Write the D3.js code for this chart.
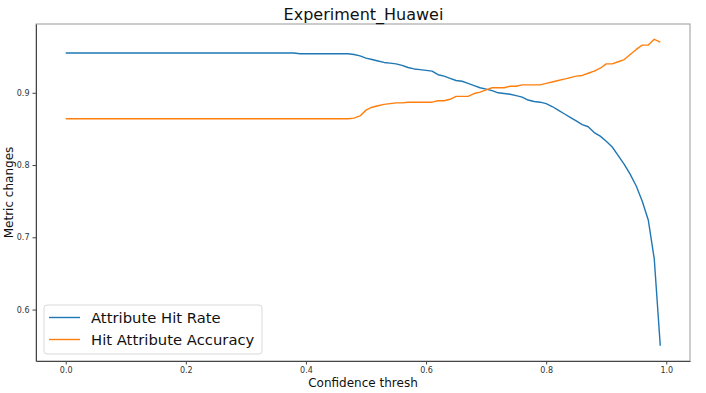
<!DOCTYPE html>
<html><head><meta charset="utf-8">
<script src="https://cdn.jsdelivr.net/npm/d3@7"></script>
<style>body{margin:0;background:#fff;} svg{display:block;font-family:"DejaVu Sans",sans-serif;}</style>
</head><body>
<svg id="chart" width="706" height="393"></svg>
<script>
const title = "Experiment_Huawei";
const xLabel = "Confidence thresh";
const yLabel = "Metric changes";
const seriesNames = ["Attribute Hit Rate", "Hit Attribute Accuracy"];
const thresholds = d3.range(100).map(i => +(i / 100).toFixed(2));
const hitRate = [
  0.955,0.955,0.955,0.955,0.955,0.955,0.955,0.955,0.955,0.955,
  0.955,0.955,0.955,0.955,0.955,0.955,0.955,0.955,0.955,0.955,
  0.955,0.955,0.955,0.955,0.955,0.955,0.955,0.955,0.955,0.955,
  0.955,0.955,0.955,0.955,0.955,0.955,0.955,0.955,0.955,0.954,
  0.954,0.954,0.954,0.954,0.954,0.954,0.954,0.954,0.953,0.951,
  0.948,0.946,0.944,0.942,0.941,0.940,0.938,0.935,0.933,0.932,
  0.931,0.930,0.925,0.923,0.920,0.917,0.916,0.913,0.910,0.907,
  0.905,0.903,0.900,0.899,0.898,0.896,0.894,0.890,0.888,0.887,
  0.885,0.881,0.876,0.871,0.866,0.861,0.856,0.853,0.845,0.840,
  0.833,0.825,0.813,0.801,0.787,0.771,0.750,0.724,0.670,0.550
];
const hitAccuracy = [
  0.864,0.864,0.864,0.864,0.864,0.864,0.864,0.864,0.864,0.864,
  0.864,0.864,0.864,0.864,0.864,0.864,0.864,0.864,0.864,0.864,
  0.864,0.864,0.864,0.864,0.864,0.864,0.864,0.864,0.864,0.864,
  0.864,0.864,0.864,0.864,0.864,0.864,0.864,0.864,0.864,0.864,
  0.864,0.864,0.864,0.864,0.864,0.864,0.864,0.864,0.865,0.868,
  0.876,0.880,0.882,0.884,0.885,0.886,0.886,0.887,0.887,0.887,
  0.887,0.887,0.889,0.889,0.891,0.895,0.895,0.895,0.899,0.901,
  0.904,0.907,0.907,0.907,0.909,0.909,0.911,0.911,0.911,0.911,
  0.913,0.915,0.917,0.919,0.921,0.923,0.924,0.927,0.930,0.934,
  0.940,0.940,0.943,0.946,0.953,0.960,0.966,0.966,0.974,0.970
];
const xTicks = [0.0, 0.2, 0.4, 0.6, 0.8, 1.0];
const yTicks = [0.6, 0.7, 0.8, 0.9];
const colors = ["#1f77b4", "#ff7f0e"];

const svg = d3.select("#chart");
const L = 36, R = 690, T = 24, B = 361;

const xMin = d3.min(thresholds), xMax = d3.max(thresholds);
const xPad = (xMax - xMin) * 0.05;
const allY = hitRate.concat(hitAccuracy);
const yMin = d3.min(allY), yMax = d3.max(allY);
const yPad = (yMax - yMin) * 0.05;

const x = d3.scaleLinear().domain([xMin - xPad, xMax + xPad]).range([L, R]);
const y = d3.scaleLinear().domain([yMin - yPad, yMax + yPad]).range([B, T]);

// frame
svg.append("rect").attr("x", L).attr("y", T).attr("width", R - L).attr("height", B - T)
  .attr("fill", "none").attr("stroke", "#9a9a9a").attr("stroke-width", 1);

const xAxis = svg.append("g").attr("transform", `translate(0,${B})`)
  .call(d3.axisBottom(x).tickValues(xTicks).tickFormat(d3.format(".1f")).tickSizeInner(3.5).tickSizeOuter(0).tickPadding(3));
const yAxis = svg.append("g").attr("transform", `translate(${L},0)`)
  .call(d3.axisLeft(y).tickValues(yTicks).tickFormat(d3.format(".1f")).tickSizeInner(3.5).tickSizeOuter(0).tickPadding(3));
[xAxis, yAxis].forEach(a => {
  a.select(".domain").attr("stroke", "#444");
  a.selectAll(".tick line").attr("stroke", "#444");
  a.selectAll(".tick text").attr("fill", "#333").style("font-size", "8px").style("font-family", "DejaVu Sans");
});

// lines
const series = [hitRate, hitAccuracy];
const line = d3.line().x((d, i) => x(thresholds[i])).y(d => y(d));
series.forEach((s, k) => {
  svg.append("path").datum(s).attr("d", line).attr("fill", "none")
    .attr("stroke", colors[k]).attr("stroke-width", 1.4).attr("stroke-linejoin", "round");
});

// title and labels
svg.append("text").attr("x", (L + R) / 2 + 0.5).attr("y", 20).attr("text-anchor", "middle")
  .style("font-size", "16px").attr("fill", "#111").text(title);
svg.append("text").attr("x", (L + R) / 2).attr("y", 387).attr("text-anchor", "middle")
  .style("font-size", "12px").attr("fill", "#111").text(xLabel);
svg.append("text").attr("transform", `translate(13,${(T + B) / 2}) rotate(-90)`).attr("text-anchor", "middle")
  .style("font-size", "12px").attr("fill", "#111").text(yLabel);

// legend
const lg = svg.append("g");
lg.append("rect").attr("x", 44).attr("y", 305).attr("width", 218).attr("height", 49)
  .attr("rx", 3).attr("fill", "#fff").attr("fill-opacity", 0.8).attr("stroke", "#d9d9d9");
seriesNames.forEach((n, k) => {
  const yy = 317.5 + k * 22;
  lg.append("line").attr("x1", 49).attr("x2", 80).attr("y1", yy).attr("y2", yy)
    .attr("stroke", colors[k]).attr("stroke-width", 1.4);
  lg.append("text").attr("x", 91).attr("y", yy + 5.5).style("font-size", "14.8px").attr("fill", "#111").text(n);
});
</script>
</body></html>
